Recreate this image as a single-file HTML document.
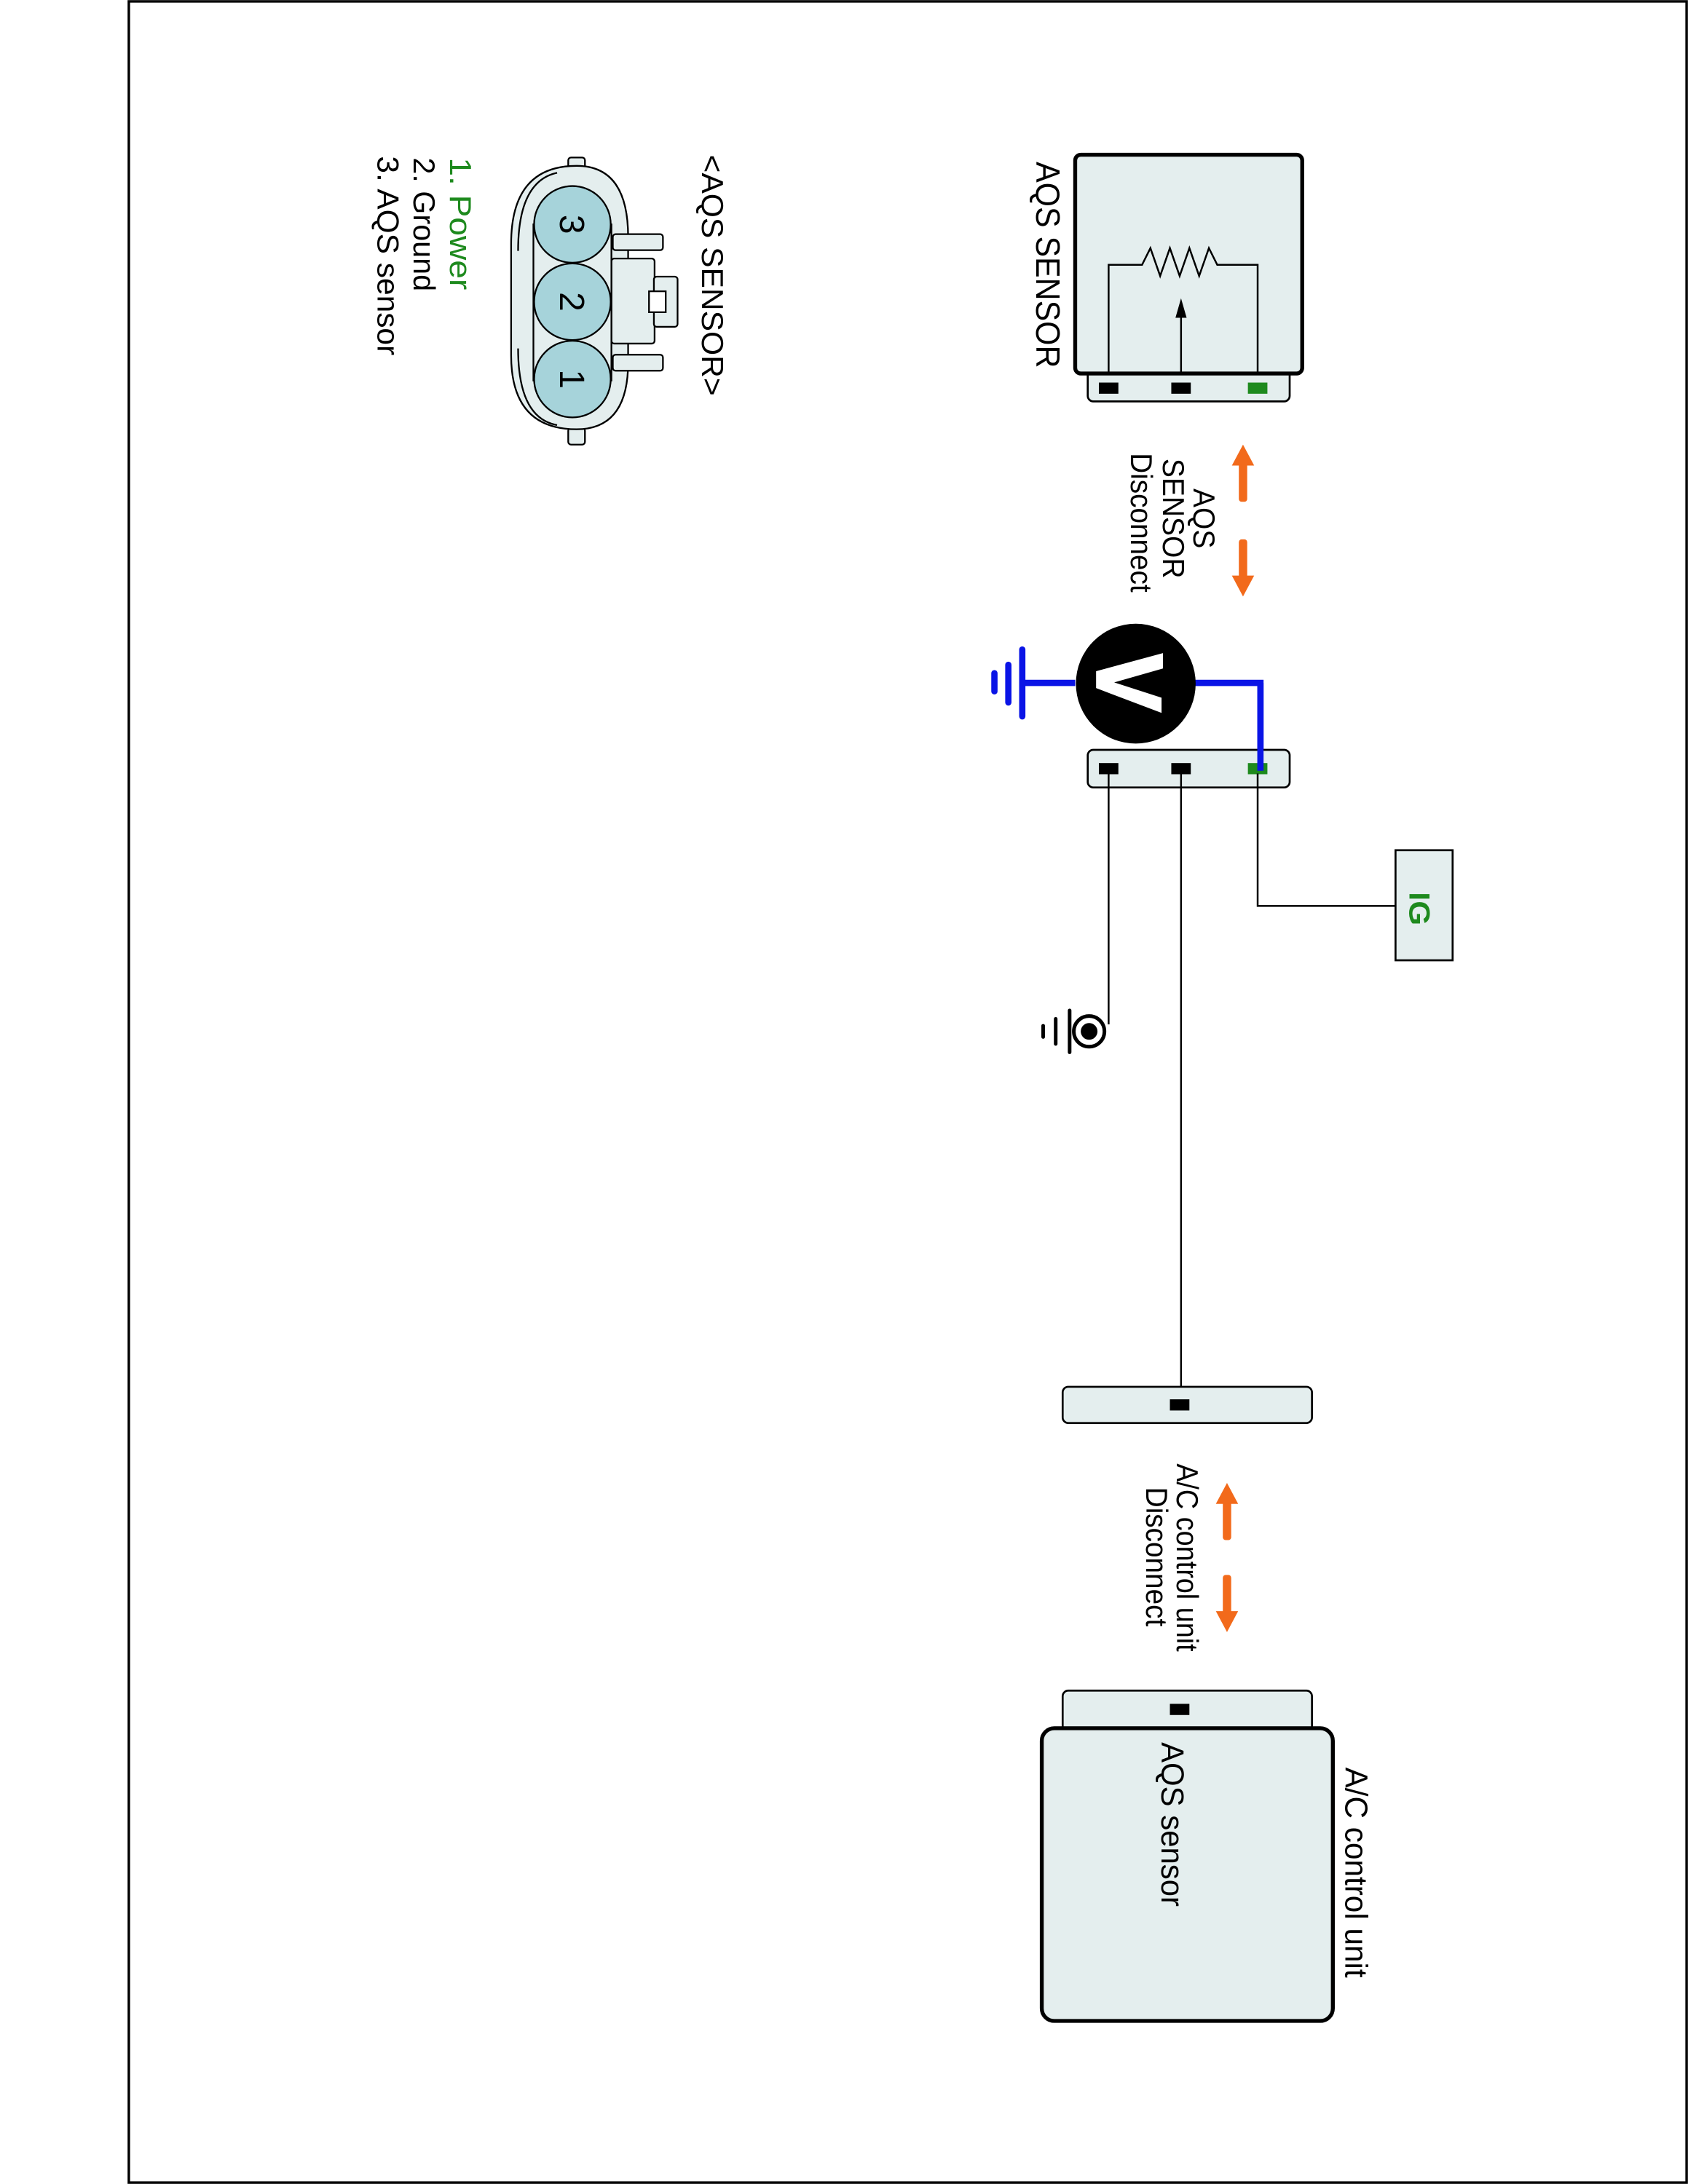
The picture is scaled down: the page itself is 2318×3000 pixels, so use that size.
<!DOCTYPE html>
<html><head><meta charset="utf-8"><style>
html,body{margin:0;padding:0;background:#fff;}
svg{display:block;}
text{font-family:"Liberation Sans Narrow","Liberation Sans",sans-serif;}
</style></head><body>
<svg width="2318" height="3000" viewBox="0 0 1212 1567" preserveAspectRatio="none" xmlns="http://www.w3.org/2000/svg">
<rect x="0" y="0" width="1212" height="1567" fill="#fff"/>
<rect x="92.5" y="1" width="1118.5" height="1565" fill="none" stroke="#000" stroke-width="1.8"/>

<!-- Connector drawing -->
<g stroke="#000" stroke-width="1.2" fill="#e4eeee">
  <rect x="408" y="113" width="12" height="12" rx="2"/>
  <rect x="408" y="307" width="12" height="12" rx="2"/>
  <path d="M367,175 Q367,119 414,119 Q451,119 451,170 L451,260 Q451,308 414,308 Q367,308 367,255 Z"/>
  <path d="M372,180 Q372,130 400,124" fill="none"/>
  <path d="M372,250 Q372,300 400,305" fill="none"/>
  <rect x="440" y="168" width="36" height="11.5" rx="2"/>
  <rect x="440" y="254.5" width="36" height="11.5" rx="2"/>
  <rect x="439" y="185.5" width="31" height="61" rx="2"/>
  <rect x="469.5" y="198.5" width="17" height="36" rx="2"/>
  <rect x="466" y="209" width="12" height="15" fill="#fff"/>
  <rect x="383" y="161" width="56" height="112" fill="#e4eeee"/>
  <circle cx="411" cy="161" r="27.5" fill="#a6d3da"/>
  <circle cx="411" cy="216.5" r="27.5" fill="#a6d3da"/>
  <circle cx="411" cy="272" r="27.5" fill="#a6d3da"/>
</g>
<g font-size="25" fill="#000" font-family="Liberation Sans, sans-serif">
  <text transform="translate(402,161) rotate(90)" text-anchor="middle">3</text>
  <text transform="translate(402,216.5) rotate(90)" text-anchor="middle">2</text>
  <text transform="translate(402,272) rotate(90)" text-anchor="middle">1</text>
</g>
<text transform="translate(504,111) rotate(90)" font-size="22" textLength="173" lengthAdjust="spacingAndGlyphs">&lt;AQS SENSOR&gt;</text>
<text transform="translate(323,113) rotate(90)" font-size="22" fill="#1e8a1e" textLength="95" lengthAdjust="spacingAndGlyphs">1. Power</text>
<text transform="translate(297,113) rotate(90)" font-size="22" textLength="96" lengthAdjust="spacingAndGlyphs">2. Ground</text>
<text transform="translate(271,112) rotate(90)" font-size="22" textLength="143" lengthAdjust="spacingAndGlyphs">3. AQS sensor</text>

<!-- AQS SENSOR box -->
<rect x="781" y="262" width="145" height="26" rx="4" fill="#e4eeee" stroke="#000" stroke-width="1.4"/>
<rect x="772" y="111" width="163" height="157" rx="4" fill="#e4eeee" stroke="#000" stroke-width="2.8"/>
<rect x="789" y="274.5" width="14" height="8" fill="#000"/>
<rect x="841" y="274.5" width="14" height="8" fill="#000"/>
<rect x="896" y="274.5" width="14" height="8" fill="#1e8a1e"/>
<path d="M796,268 L796,190 L820,190 L826,178 L833,198 L840,178 L847,198 L854,178 L861,198 L868,178 L874,190 L903,190 L903,268" fill="none" stroke="#000" stroke-width="1.3"/>
<line x1="848" y1="268" x2="848" y2="226" stroke="#000" stroke-width="1.3"/>
<polygon points="848,214 844,228 852,228" fill="#000"/>
<text transform="translate(744,116) rotate(90)" font-size="24" textLength="148" lengthAdjust="spacingAndGlyphs">AQS SENSOR</text>

<!-- orange arrows 1 -->
<g fill="#f26a1b">
  <rect x="889.5" y="332" width="6" height="28" rx="2"/>
  <polygon points="892.5,319 884.5,334 900.5,334"/>
  <rect x="889.5" y="387" width="6" height="28" rx="2"/>
  <polygon points="892.5,428 884.5,413 900.5,413"/>
</g>
<text transform="translate(857,372) rotate(90)" font-size="22" text-anchor="middle" textLength="43" lengthAdjust="spacingAndGlyphs">AQS</text>
<text transform="translate(835,372) rotate(90)" font-size="22" text-anchor="middle" textLength="86" lengthAdjust="spacingAndGlyphs">SENSOR</text>
<text transform="translate(812,375) rotate(90)" font-size="22" text-anchor="middle" textLength="100" lengthAdjust="spacingAndGlyphs">Disconnect</text>

<!-- voltmeter -->
<polyline points="858,490 905,490 905,552" fill="none" stroke="#0a14e6" stroke-width="4.5"/>
<line x1="772" y1="490" x2="735" y2="490" stroke="#0a14e6" stroke-width="4.5"/>
<g stroke="#0a14e6" stroke-width="4.5" stroke-linecap="round">
  <line x1="734" y1="466" x2="734" y2="514"/>
  <line x1="724" y1="477" x2="724" y2="504"/>
  <line x1="714" y1="483" x2="714" y2="496"/>
</g>
<circle cx="815.5" cy="490.5" r="43" fill="#000"/>
<polygon points="787,481.6 835,468.6 835,479.6 800,489.6 834,500.6 834,511.5 787,493.7" fill="#fff"/>

<!-- connector 2 -->
<rect x="781" y="538" width="145" height="27" rx="4" fill="#e4eeee" stroke="#000" stroke-width="1.4"/>
<rect x="789" y="547.5" width="14" height="8" fill="#000"/>
<rect x="841" y="547.5" width="14" height="8" fill="#000"/>
<rect x="896" y="547.5" width="14" height="8" fill="#1e8a1e"/>
<line x1="905" y1="490" x2="905" y2="553" stroke="#0a14e6" stroke-width="4.5"/>
<line x1="796" y1="555" x2="796" y2="735" stroke="#000" stroke-width="1.3"/>
<line x1="848" y1="555" x2="848" y2="1008" stroke="#000" stroke-width="1.3"/>
<polyline points="903,555 903,650 1003,650" fill="none" stroke="#000" stroke-width="1.3"/>
<rect x="1002" y="610" width="41" height="79" fill="#e4eeee" stroke="#000" stroke-width="1.4"/>
<text transform="translate(1012,640) rotate(90)" font-size="21" fill="#1e8a1e" font-weight="bold" textLength="24" lengthAdjust="spacingAndGlyphs">IG</text>

<!-- ground symbol -->
<circle cx="782" cy="740" r="11" fill="#fff" stroke="#000" stroke-width="2.6"/>
<circle cx="782" cy="740" r="6" fill="#000"/>
<g stroke="#000" stroke-width="2.6" stroke-linecap="round">
  <line x1="768" y1="725" x2="768" y2="755"/>
  <line x1="758" y1="731" x2="758" y2="749"/>
  <line x1="749" y1="736" x2="749" y2="744"/>
</g>

<!-- connector 3 -->
<rect x="763" y="995" width="179" height="26" rx="4" fill="#e4eeee" stroke="#000" stroke-width="1.4"/>
<rect x="840" y="1004" width="14" height="8" fill="#000"/>

<!-- orange arrows 2 -->
<g fill="#f26a1b">
  <rect x="878" y="1077" width="6" height="28" rx="2"/>
  <polygon points="881,1064 873,1079 889,1079"/>
  <rect x="878" y="1130" width="6" height="28" rx="2"/>
  <polygon points="881,1171 873,1156 889,1156"/>
</g>
<text transform="translate(845,1050) rotate(90)" font-size="22" textLength="135" lengthAdjust="spacingAndGlyphs">A/C control unit</text>
<text transform="translate(823,1067) rotate(90)" font-size="22" textLength="100" lengthAdjust="spacingAndGlyphs">Disconnect</text>

<!-- connector 4 + A/C unit -->
<rect x="763" y="1213" width="179" height="34" rx="4" fill="#e4eeee" stroke="#000" stroke-width="1.4"/>
<rect x="840" y="1222.5" width="14" height="8" fill="#000"/>
<rect x="748" y="1240" width="209" height="210" rx="9" fill="#e4eeee" stroke="#000" stroke-width="2.8"/>
<text transform="translate(834,1250) rotate(90)" font-size="23" textLength="118" lengthAdjust="spacingAndGlyphs">AQS sensor</text>
<text transform="translate(966,1268) rotate(90)" font-size="23" textLength="151" lengthAdjust="spacingAndGlyphs">A/C control unit</text>
</svg>
</body></html>
